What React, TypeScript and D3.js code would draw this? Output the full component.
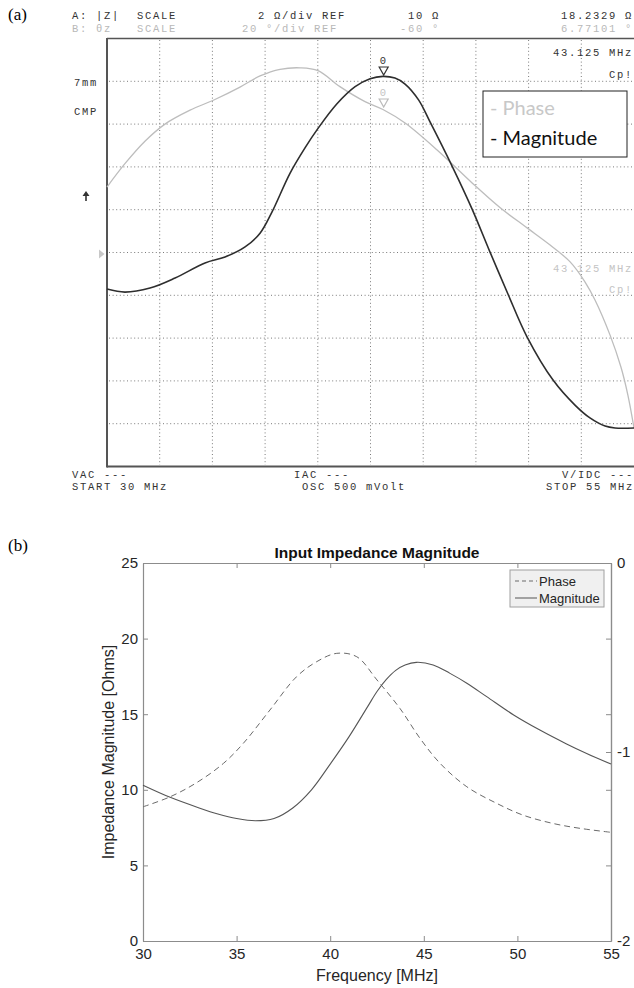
import React, { useEffect, useRef } from 'react';
import * as d3 from 'd3';

// (a) analyzer screen: |Z| trace (ohms) and phase trace (degrees) vs MHz
const magFreqA = [30, 30.85, 32.04, 33.23, 34.65, 35.6, 36.55, 37.26, 37.83, 38.68, 39.4, 40.01, 40.91, 41.77, 42.48, 43.09, 43.66, 44.14, 44.78, 45.3, 46.37, 47.32, 48.17, 49.02, 49.93, 51.16, 52.2, 52.91, 53.63, 54.1, 55];
const magOhmA = [8.29, 8.15, 8.34, 8.81, 9.51, 9.79, 10.26, 10.9, 11.9, 13.7, 14.9, 15.8, 16.95, 17.75, 18.12, 18.23, 18.15, 17.87, 17.13, 16.15, 14.04, 12.03, 10.02, 8.06, 6.05, 4.04, 2.87, 2.27, 1.89, 1.8, 1.8];
const phaseFreqA = [30, 30.85, 31.8, 32.75, 33.94, 35.12, 36.31, 37.26, 38.21, 39.16, 40.01, 41.05, 42.24, 43.09, 44.14, 45.66, 47.32, 48.64, 49.93, 51.02, 51.97, 52.68, 53.15, 53.86, 54.38, 54.71, 55];
const phaseDegA = [-29.4, -18.5, -8, 0, 6.5, 11.5, 17.3, 22.5, 25.6, 26.3, 25.0, 17.5, 10.5, 6.8, 0.5, -12.1, -27.5, -39, -48.5, -56.5, -64.4, -73.8, -82.2, -98.5, -113.5, -126.6, -142];

// (b) simulated input impedance
const magFreqB = [30, 31.45, 33, 34, 35, 36, 37, 38, 39, 40, 41, 42, 42.5, 43, 43.5, 44, 44.6, 45.5, 46.4, 47.3, 48.36, 49.8, 51.2, 52.6, 53.7, 55];
const magOhmB = [10.3, 9.5, 8.8, 8.4, 8.1, 7.95, 8.1, 8.8, 10.0, 11.7, 13.5, 15.5, 16.5, 17.3, 17.9, 18.25, 18.43, 18.26, 17.7, 17.05, 16.16, 14.95, 13.95, 13.05, 12.4, 11.7];
const phaseFreqB = [30, 31.45, 32.87, 34.3, 35.36, 36.78, 38.2, 39.28, 40.35, 41.42, 42.5, 43.73, 44.8, 45.87, 47.3, 48.9, 50.3, 51.9, 53.35, 55];
const phaseB = [-1.29, -1.237, -1.162, -1.06, -0.954, -0.778, -0.602, -0.522, -0.478, -0.496, -0.619, -0.77, -0.928, -1.06, -1.184, -1.272, -1.334, -1.378, -1.404, -1.425];
const xTicksB = [30, 35, 40, 45, 50, 55];
const yTicksB = [0, 5, 10, 15, 20, 25];
const y2TicksB = [-2, -1, 0];

const App = () => {
  const svgRef = useRef<SVGSVGElement>(null);

  useEffect(() => {
    const svg = d3.select(svgRef.current);
    svg.selectAll('*').remove();
    const W = 634, H = 988;
    svg.attr('width', W).attr('height', H);
    svg.append('rect').attr('width', W).attr('height', H).attr('fill', '#fff');

    const serif = '"Liberation Serif", "Times New Roman", serif';
    const sans = '"Liberation Sans", Arial, sans-serif';
    const monoFont = '"Liberation Mono", "DejaVu Sans Mono", monospace';
    const smooth = d3.curveCatmullRom.alpha(0.5);

    svg.append('text').attr('x', 8).attr('y', 20).attr('font-family', serif).attr('font-size', 17).text('(a)');
    svg.append('text').attr('x', 8).attr('y', 551).attr('font-family', serif).attr('font-size', 17).text('(b)');

    // ---------- panel (a) ----------
    const gA = svg.append('g');
    const xA = d3.scaleLinear().domain([30, 55]).range([107, 634]);
    const yMagA = d3.scaleLinear().domain([0, 20]).range([466.5, 38.5]);
    const yPhA = d3.scaleLinear().domain([-160, 40]).range([466.5, 38.5]);

    const mono = (x: number, y: number, s: string, color: string) =>
      gA.append('text')
        .attr('x', x).attr('y', y)
        .attr('fill', color)
        .attr('font-family', monoFont)
        .attr('font-size', 10.5)
        .attr('letter-spacing', 1.7)
        .text(s);

    // grid
    d3.range(1, 10).forEach(i => {
      gA.append('line')
        .attr('x1', xA(30 + 2.5 * i)).attr('x2', xA(30 + 2.5 * i))
        .attr('y1', 40).attr('y2', 465)
        .attr('stroke', '#7a7a7a').attr('stroke-width', 1)
        .attr('stroke-dasharray', '1 2.6');
      gA.append('line')
        .attr('x1', 109).attr('x2', 634)
        .attr('y1', yMagA(2 * i)).attr('y2', yMagA(2 * i))
        .attr('stroke', '#7a7a7a').attr('stroke-width', 1)
        .attr('stroke-dasharray', '1 2.6');
    });
    // frame
    gA.append('line').attr('x1', 107).attr('x2', 107).attr('y1', 38).attr('y2', 467.5).attr('stroke', '#555').attr('stroke-width', 2);
    gA.append('line').attr('x1', 107).attr('x2', 634).attr('y1', 38.5).attr('y2', 38.5).attr('stroke', '#555').attr('stroke-width', 1.5);
    gA.append('line').attr('x1', 107).attr('x2', 634).attr('y1', 466.5).attr('y2', 466.5).attr('stroke', '#555').attr('stroke-width', 2);

    // header
    mono(72, 19, 'A: |Z|', '#333');
    mono(137, 19, 'SCALE', '#333');
    mono(258, 19, '2 Ω/div REF', '#333');
    mono(408, 19, '10 Ω', '#333');
    mono(561, 19, '18.2329 Ω', '#333');
    mono(72, 31.5, 'B: θz', '#b8b8b8');
    mono(137, 31.5, 'SCALE', '#b8b8b8');
    mono(242, 31.5, '20 °/div REF', '#b8b8b8');
    mono(400, 31.5, '-60 °', '#b8b8b8');
    mono(561, 31.5, '6.77101 °', '#b8b8b8');

    // side labels
    mono(74, 86, '7mm', '#333');
    mono(74, 115, 'CMP', '#333');
    gA.append('path').attr('d', 'M86,191 L82.5,196 L89.5,196 Z M85.2,196 L86.8,196 L86.8,201 L85.2,201 Z').attr('fill', '#333');
    gA.append('path').attr('d', 'M99,249.5 L104.5,254 L99,258.5 Z').attr('fill', '#c8c8c8');

    // in-screen marker readouts
    mono(553, 56, '43.125 MHz', '#333');
    mono(609, 78, 'Cp!', '#333');
    mono(553, 272, '43.125 MHz', '#c4c4c4');
    mono(609, 293, 'Cp!', '#c4c4c4');

    // bottom status rows
    mono(72, 477.5, 'VAC ---', '#333');
    mono(72, 490, 'START 30 MHz', '#333');
    mono(294, 477.5, 'IAC ---', '#333');
    mono(302, 490, 'OSC 500 mVolt', '#333');
    mono(562, 477.5, 'V/IDC ---', '#333');
    mono(546, 490, 'STOP 55 MHz', '#333');

    // traces
    const lineMagA = d3.line<[number, number]>().x(d => xA(d[0])).y(d => yMagA(d[1])).curve(smooth);
    const linePhA = d3.line<[number, number]>().x(d => xA(d[0])).y(d => yPhA(d[1])).curve(smooth);
    gA.append('path')
      .datum(d3.zip(phaseFreqA, phaseDegA) as [number, number][])
      .attr('d', linePhA)
      .attr('fill', 'none').attr('stroke', '#bdbdbd').attr('stroke-width', 1.3);
    gA.append('path')
      .datum(d3.zip(magFreqA, magOhmA) as [number, number][])
      .attr('d', lineMagA)
      .attr('fill', 'none').attr('stroke', '#2e2e2e').attr('stroke-width', 1.6);

    // markers
    const mx = xA(43.125);
    mono(mx - 4, 64, '0', '#333');
    gA.append('path').attr('d', `M${mx - 4.5},67 L${mx + 4.5},67 L${mx},75 Z`).attr('fill', 'none').attr('stroke', '#333').attr('stroke-width', 1.2);
    mono(mx - 4, 96, '0', '#c4c4c4');
    gA.append('path').attr('d', `M${mx - 4.5},99 L${mx + 4.5},99 L${mx},107 Z`).attr('fill', 'none').attr('stroke', '#bbb').attr('stroke-width', 1.2);

    // pasted legend
    gA.append('rect').attr('x', 483).attr('y', 91).attr('width', 144).attr('height', 66)
      .attr('fill', '#fff').attr('stroke', '#222').attr('stroke-width', 1);
    gA.append('text').attr('x', 490).attr('y', 115).attr('font-family', 'Lato, "Open Sans", sans-serif').attr('font-size', 20)
      .attr('fill', '#c8c8c8').text('- Phase');
    gA.append('text').attr('x', 490).attr('y', 145).attr('font-family', 'Lato, "Open Sans", sans-serif').attr('font-size', 20)
      .attr('fill', '#111').text('- Magnitude');

    // ---------- panel (b) ----------
    const gB = svg.append('g');
    const left = 143, right = 611, top = 563, bottom = 941;
    const xB = d3.scaleLinear().domain([30, 55]).range([left, right]);
    const yB = d3.scaleLinear().domain([0, 25]).range([bottom, top]);
    const y2B = d3.scaleLinear().domain([-2, 0]).range([bottom, top]);
    const fmt = (d: d3.NumberValue) => String(d);

    const styleAxis = (g: d3.Selection<SVGGElement, unknown, null, undefined>) => {
      g.selectAll('path').attr('stroke', '#8c8c8c').attr('stroke-width', 1.2);
      g.selectAll('line').attr('stroke', '#8c8c8c');
      g.selectAll('text').attr('fill', '#262626').attr('font-family', sans).attr('font-size', 15);
      g.attr('font-family', null).attr('font-size', null);
    };

    gB.append('g').attr('transform', `translate(0,${bottom})`)
      .call(d3.axisBottom(xB).tickValues(xTicksB).tickSize(-5).tickSizeOuter(0).tickPadding(7).tickFormat(fmt))
      .call(styleAxis);
    gB.append('g').attr('transform', `translate(0,${top})`)
      .call(d3.axisTop(xB).tickValues(xTicksB).tickSize(-5).tickSizeOuter(0).tickFormat(() => ''))
      .call(styleAxis);
    gB.append('g').attr('transform', `translate(${left},0)`)
      .call(d3.axisLeft(yB).tickValues(yTicksB).tickSize(-5).tickSizeOuter(0).tickPadding(5).tickFormat(fmt))
      .call(styleAxis);
    gB.append('g').attr('transform', `translate(${right},0)`)
      .call(d3.axisRight(yB).tickValues(yTicksB).tickSize(-5).tickSizeOuter(0).tickFormat(() => ''))
      .call(styleAxis);
    gB.append('g').attr('transform', `translate(${right},0)`)
      .call(d3.axisRight(y2B).tickValues(y2TicksB).tickSize(-5).tickSizeOuter(0).tickPadding(6).tickFormat(fmt))
      .call(styleAxis);

    gB.append('text').attr('x', (left + right) / 2).attr('y', 558).attr('text-anchor', 'middle')
      .attr('font-family', sans).attr('font-size', 15.5).attr('font-weight', 'bold').attr('fill', '#111')
      .text('Input Impedance Magnitude');
    gB.append('text').attr('x', (left + right) / 2).attr('y', 981).attr('text-anchor', 'middle')
      .attr('font-family', sans).attr('font-size', 16).attr('fill', '#262626')
      .text('Frequency [MHz]');
    gB.append('text').attr('transform', `translate(114,${(top + bottom) / 2}) rotate(-90)`).attr('text-anchor', 'middle')
      .attr('font-family', sans).attr('font-size', 16).attr('fill', '#262626')
      .text('Impedance Magnitude [Ohms]');

    const lineMagB = d3.line<[number, number]>().x(d => xB(d[0])).y(d => yB(d[1])).curve(smooth);
    const linePhB = d3.line<[number, number]>().x(d => xB(d[0])).y(d => y2B(d[1])).curve(smooth);
    gB.append('path')
      .datum(d3.zip(phaseFreqB, phaseB) as [number, number][])
      .attr('d', linePhB)
      .attr('fill', 'none').attr('stroke', '#6a6a6a').attr('stroke-width', 1).attr('stroke-dasharray', '6 4');
    gB.append('path')
      .datum(d3.zip(magFreqB, magOhmB) as [number, number][])
      .attr('d', lineMagB)
      .attr('fill', 'none').attr('stroke', '#555').attr('stroke-width', 1.1);

    // legend
    const lg = gB.append('g');
    lg.append('rect').attr('x', 510).attr('y', 570).attr('width', 94).attr('height', 37)
      .attr('fill', '#f0f0f0').attr('stroke', '#a0a0a0').attr('stroke-width', 1);
    lg.append('line').attr('x1', 515).attr('x2', 537).attr('y1', 581).attr('y2', 581)
      .attr('stroke', '#6a6a6a').attr('stroke-dasharray', '4 3');
    lg.append('line').attr('x1', 515).attr('x2', 537).attr('y1', 598).attr('y2', 598)
      .attr('stroke', '#555');
    lg.append('text').attr('x', 539).attr('y', 585.5).attr('font-family', sans).attr('font-size', 13).attr('fill', '#262626').text('Phase');
    lg.append('text').attr('x', 539).attr('y', 602.5).attr('font-family', sans).attr('font-size', 13).attr('fill', '#262626').text('Magnitude');
  }, []);

  return <svg ref={svgRef} style={{ position: 'absolute', left: 0, top: 0 }}></svg>;
};

export default App;
